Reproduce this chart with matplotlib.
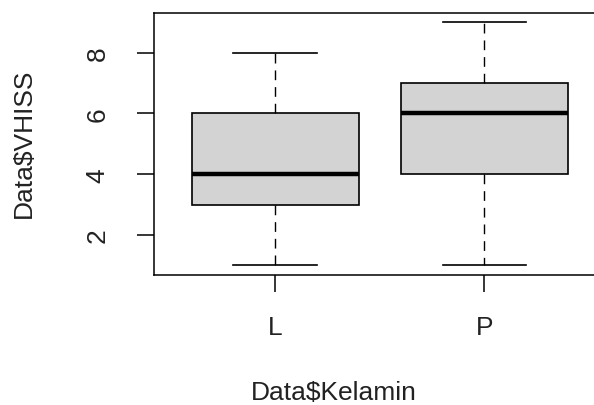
import matplotlib
matplotlib.use("Agg")
import matplotlib.pyplot as plt

plt.rcParams["font.family"] = ["Liberation Sans", "DejaVu Sans"]

# five-number summaries per group
groups = ["L", "P"]
mins = [1, 1]
q1s = [3, 4]
medians = [4, 6]
q3s = [6, 7]
maxs = [8, 9]
yticks = [2, 4, 6, 8]

stats = []
for g, lo, a, m, b, hi in zip(groups, mins, q1s, medians, q3s, maxs):
    stats.append(dict(label=g, whislo=lo, q1=a, med=m, q3=b, whishi=hi, fliers=[]))

fig = plt.figure(figsize=(5.94, 4.06), dpi=100)
ax = fig.add_axes([0.2593, 0.3202, 0.7604, 0.6461])

ax.bxp(
    stats,
    positions=[1, 2],
    widths=0.8,
    capwidths=0.4,
    patch_artist=True,
    boxprops=dict(facecolor="#d3d3d3", edgecolor="black", linewidth=1.2),
    medianprops=dict(color="black", linewidth=3.2, solid_capstyle="butt"),
    whiskerprops=dict(color="black", linewidth=1.0, linestyle=(0, (7, 5))),
    capprops=dict(color="black", linewidth=1.2),
)

ax.set_xlim(0.42, 2.58)
ax.set_ylim(0.68, 9.32)
ax.set_yticks(yticks)
ax.set_yticklabels([str(v) for v in yticks], rotation=90, va="center")
ax.set_xticks([1, 2])
ax.set_xticklabels(groups)

ax.tick_params(axis="both", direction="out", length=12, width=1.1,
               labelsize=19, color="black", labelcolor="#222222")
ax.tick_params(axis="y", pad=20)
ax.tick_params(axis="x", pad=17)

for s in ax.spines.values():
    s.set_linewidth(1.1)

ax.set_xlabel("Data$Kelamin", fontsize=19, color="#222222")
ax.set_ylabel("Data$VHISS", fontsize=19, color="#222222")
ax.xaxis.set_label_coords(0.398, -0.40)
ax.yaxis.set_label_coords(-0.262, 0.506)

fig.savefig("out.png", dpi=100)
